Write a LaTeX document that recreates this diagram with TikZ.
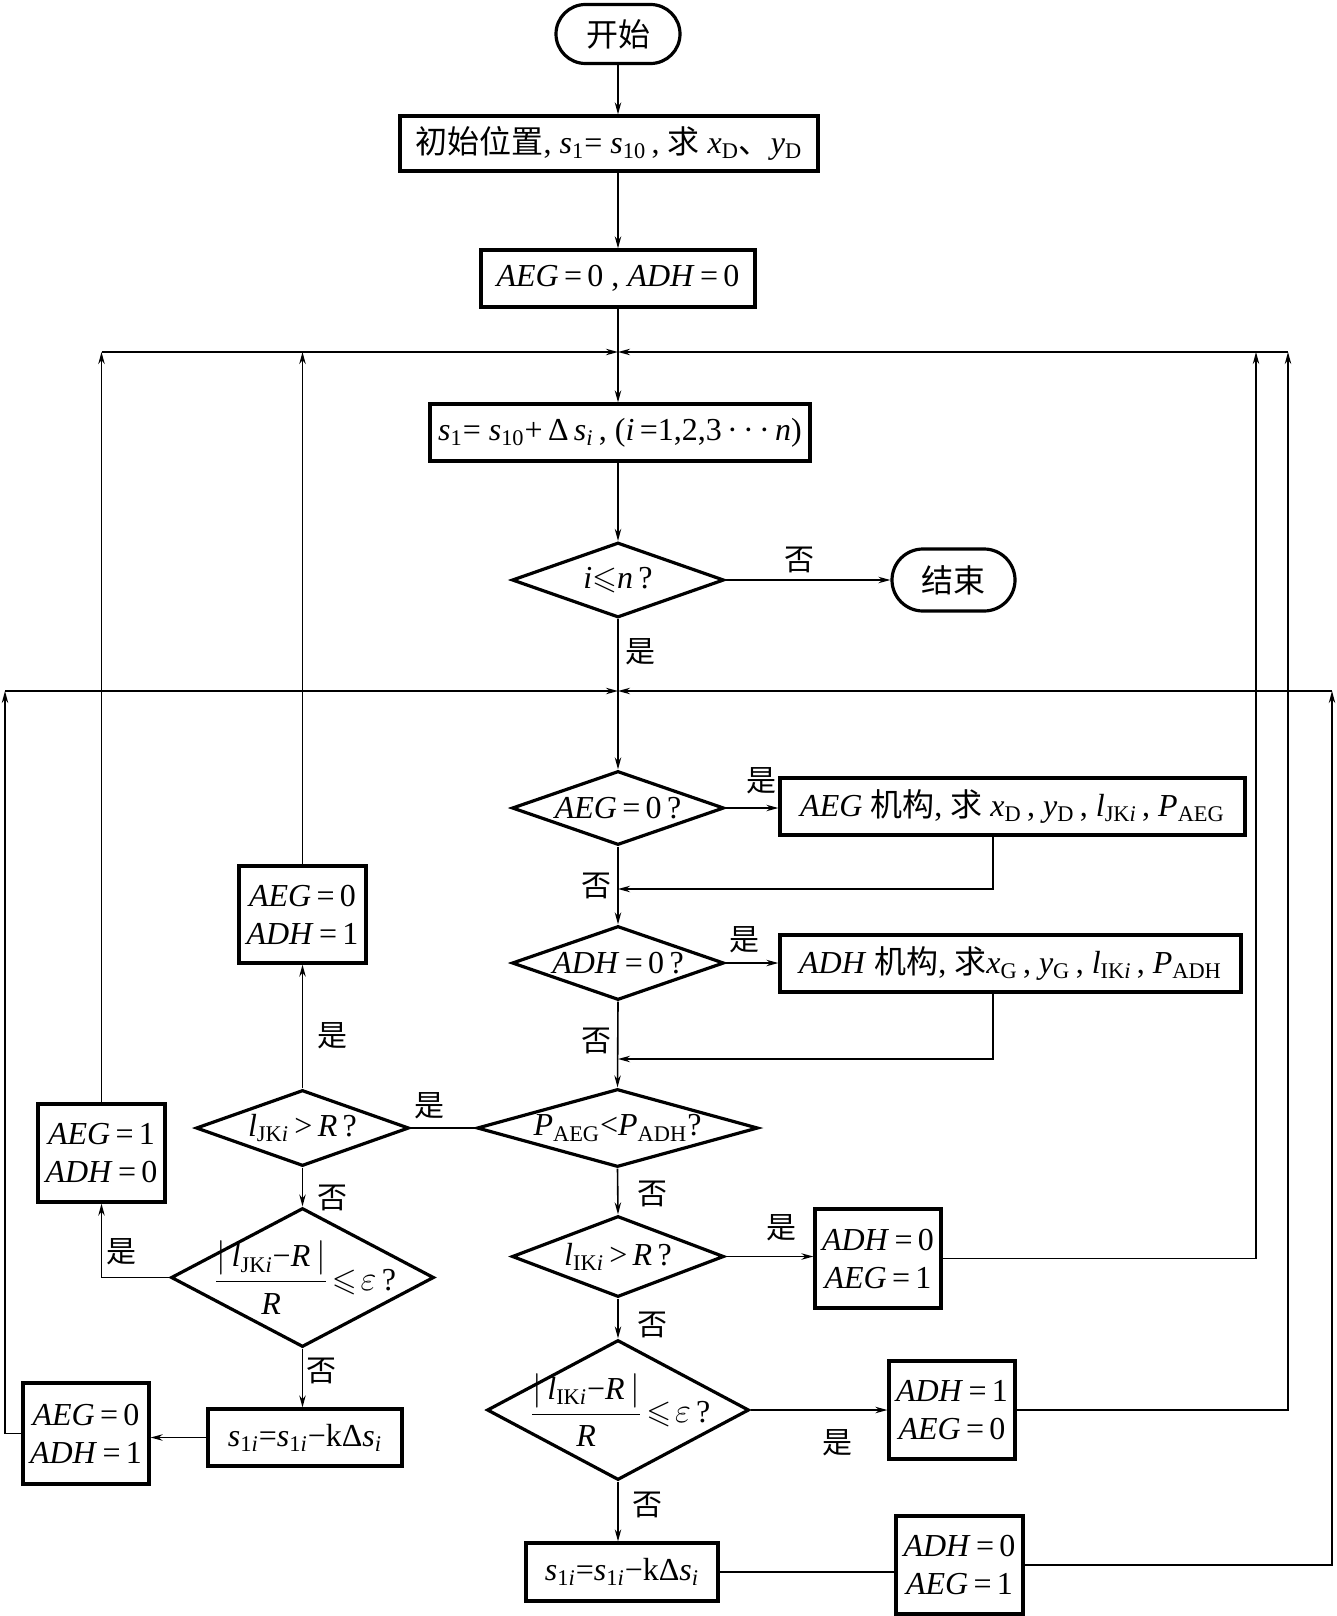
\documentclass[tikz,border=0pt]{standalone}
\usepackage{amsmath,amssymb}
\usepackage{fontspec}
\setmainfont{Liberation Serif}
\newfontfamily\cjk{Noto Sans CJK SC}
\usetikzlibrary{shapes.geometric,arrows.meta}
\newcommand\vi[1]{\textit{#1}}
\newcommand\sbs[1]{\textsubscript{#1}}
\newcommand\fs{\fontsize{16}{19}\selectfont}
\newcommand\epsfrac[1]{$\dfrac{\left|\,\text{\vi{l}\sbs{#1\vi{i}}−\vi{R}}\,\right|}{\text{\vi{R}}}\!\leqslant\!\varepsilon$\,?}
\begin{document}
\begin{tikzpicture}[x=0.5pt,y=-0.5pt,
  box/.style={draw, line width=1.6pt, inner sep=0pt, font=\fs, align=center},
  diam/.style={draw, diamond, line width=1.6pt, inner sep=0pt},
  txt/.style={inner sep=0pt, font=\fs, align=center},
  conn/.style={line width=0.8pt},
  arr/.style={-{Stealth[length=6pt,width=3.2pt]}},
  lbl/.style={inner sep=0pt, font=\cjk\fontsize{15}{18}\selectfont}]
\useasboundingbox (0,0) rectangle (1337,1616);

% ---- nodes ----
\node[box, minimum width=62pt, minimum height=29.5pt, rounded corners=14.75pt] (start) at (618,34) {{\cjk 开始}};
\node[box, minimum width=209pt, minimum height=27.5pt] (init) at (609,143.5)
  {{\cjk 初始位置}, \vi{s}\sbs{1}= \vi{s}\sbs{10}\,, {\cjk 求} \vi{x}\sbs{D}{\cjk 、}\vi{y}\sbs{D}};
\node[box, minimum width=137pt, minimum height=28.5pt] (box0) at (618,278.5)
  {\vi{AEG}\,=\,0 , \vi{ADH}\,=\,0};
\node[box, minimum width=190pt, minimum height=28.5pt] (s1) at (620,432.5)
  {\vi{s}\sbs{1}= \vi{s}\sbs{10}+\,Δ\,\vi{s}\sbs{\vi{i}}\,, (\vi{i}\,=1,2,3\,·\,·\,·\,\vi{n})};
\node[diam, minimum width=106pt, minimum height=37.5pt] (d1) at (618,580) {};
\node[txt] (d1t) at (d1) {\vi{i}$\leqslant$\vi{n}\,?};
\node[box, minimum width=61.5pt, minimum height=31pt, rounded corners=15.5pt] (end) at (953.5,580) {{\cjk 结束}};

\node[diam, minimum width=106pt, minimum height=37pt] (d2) at (618,808) {};
\node[txt] (d2t) at (d2) {\vi{AEG}\,=\,0\,?};
\node[box, minimum width=232.5pt, minimum height=28.5pt] (aegbox) at (1012.5,806.5)
  {\vi{AEG} {\cjk 机构}, {\cjk 求} \vi{x}\sbs{D}\,, \vi{y}\sbs{D}\,, \vi{l}\sbs{JK\vi{i}}\,, \vi{P}\sbs{AEG}};
\node[diam, minimum width=106pt, minimum height=37pt] (d3) at (618,963) {};
\node[txt] (d3t) at (d3) {\vi{ADH}\,=\,0\,?};
\node[box, minimum width=230.5pt, minimum height=28.5pt] (adhbox) at (1010.5,963.5)
  {\vi{ADH} {\cjk 机构}, {\cjk 求}\vi{x}\sbs{G}\,, \vi{y}\sbs{G}\,, \vi{l}\sbs{IK\vi{i}}\,, \vi{P}\sbs{ADH}};
\node[diam, minimum width=140.5pt, minimum height=39pt] (d4) at (617.5,1128) {};
\node[txt] (d4t) at (d4) {\vi{P}\sbs{AEG}<\vi{P}\sbs{ADH}?};

% left column
\node[diam, minimum width=106.5pt, minimum height=38pt] (d5) at (302.5,1128) {};
\node[txt] (d5t) at (d5) {\vi{l}\sbs{JK\vi{i}}\,>\,\vi{R}\,?};
\node[box, minimum width=63.5pt, minimum height=48.5pt] (bA) at (302.5,914.5) {\vi{AEG}\,=\,0\\\vi{ADH}\,=\,1};
\node[diam, minimum width=131.5pt, minimum height=69.5pt] (d6) at (302.5,1277.5) {};
\node[txt] (d6t) at (305,1277.5) {\epsfrac{JK}};
\node[box, minimum width=63.5pt, minimum height=49pt] (bB) at (101.5,1153) {\vi{AEG}\,=\,1\\\vi{ADH}\,=\,0};
\node[box, minimum width=97pt, minimum height=28.5pt] (s1iL) at (305,1437.5)
  {\vi{s}\sbs{1\vi{i}}=\vi{s}\sbs{1\vi{i}}−kΔ\vi{s}\sbs{\vi{i}}};
\node[box, minimum width=63pt, minimum height=50.5pt] (bC) at (86,1433.5) {\vi{AEG}\,=\,0\\\vi{ADH}\,=\,1};

% right column
\node[diam, minimum width=106pt, minimum height=40.5pt] (d7) at (618,1256.5) {};
\node[txt] (d7t) at (d7) {\vi{l}\sbs{IK\vi{i}}\,>\,\vi{R}\,?};
\node[box, minimum width=63pt, minimum height=49.5pt] (bD) at (878,1258.5) {\vi{ADH}\,=\,0\\\vi{AEG}\,=\,1};
\node[diam, minimum width=131pt, minimum height=70pt] (d8) at (618,1410) {};
\node[txt] (d8t) at (620,1410) {\epsfrac{IK}};
\node[box, minimum width=63pt, minimum height=49pt] (bE) at (952,1410) {\vi{ADH}\,=\,1\\\vi{AEG}\,=\,0};
\node[box, minimum width=96pt, minimum height=29pt] (s1iB) at (622,1572)
  {\vi{s}\sbs{1\vi{i}}=\vi{s}\sbs{1\vi{i}}−kΔ\vi{s}\sbs{\vi{i}}};
\node[box, minimum width=63.5pt, minimum height=49pt] (bF) at (959.5,1565) {\vi{ADH}\,=\,0\\\vi{AEG}\,=\,1};

% ---- loop coordinates ----
\coordinate (L1m) at (618,352);
\coordinate (R1) at (1256,352);
\coordinate (R2) at (1288,352);
\coordinate (L2m) at (618,691);
\coordinate (L2a) at (5,691);
\coordinate (L2b) at (1332,691);
\coordinate (M1) at (993,889);
\coordinate (M2) at (993,1059);

% ---- connectors: main line ----
\draw[conn,arr] (start.south) -- (start.south |- init.north);
\draw[conn,arr] (box0.north |- init.south) -- (box0.north);
\draw[conn,arr] (box0.south) -- (box0.south |- s1.north);
\draw[conn,arr] (d1.north |- s1.south) -- (d1.north);
\draw[conn,arr] (d1.east) -- (end.west);
\draw[conn,arr] (d1.south) -- (d2.north);
\draw[conn,arr] (d2.east) -- (d2.east -| aegbox.west);
\draw[conn,arr] (d2.south) -- (d3.north);
\draw[conn,arr] (aegbox.south -| M1) -- (M1) -- (M1 -| d2.south);
\draw[conn,arr] (d3.east) -- (d3.east -| adhbox.west);
\draw[conn,arr] (d3.south) -- (d4.north);
\draw[conn,arr] (adhbox.south -| M2) -- (M2) -- (M2 -| d3.south);

% left branch
\draw[conn] (d4.west) -- (d5.east);
\draw[conn,arr] (d5.north) -- (bA.south);
\draw[conn,arr] (bA.north) -- (bA.north |- L1m);
\draw[conn,arr] (d5.south) -- (d6.north);
\draw[conn,arr] (d6.west) -| (bB.south);
\draw[conn,arr] (bB.north) -- (bB.north |- L1m);
\draw[conn,arr] (bB.north |- L1m) -- (L1m);
\draw[conn,arr] (d6.south) -- (d6.south |- s1iL.north);
\draw[conn,arr] (s1iL.west) -- (s1iL.west -| bC.east);
\draw[conn,arr] (bC.west) -| (L2a);
\draw[conn,arr] (L2a) -- (L2m);

% right branch
\draw[conn,arr] (d4.south) -- (d7.north);
\draw[conn,arr] (d7.east) -- (d7.east -| bD.west);
\draw[conn,arr] (bD.east) -| (R1);
\draw[conn,arr] (d7.south) -- (d8.north);
\draw[conn,arr] (d8.east) -- (bE.west);
\draw[conn,arr] (bE.east) -| (R2);
\draw[conn,arr] (R2) -- (L1m);
\draw[conn,arr] (d8.south) -- (d8.south |- s1iB.north);
\draw[conn] (s1iB.east) -- (s1iB.east -| bF.west);
\draw[conn,arr] (bF.east) -| (L2b);
\draw[conn,arr] (L2b) -- (L2m);

% ---- labels ----
\node[lbl] (n1) at (799,560) {否};
\node[lbl] (y1) at (640,652) {是};
\node[lbl] (y2) at (761,781) {是};
\node[lbl] (n2) at (596,886) {否};
\node[lbl] (y3) at (744,940) {是};
\node[lbl] (n3) at (596,1041) {否};
\node[lbl] (y4) at (429,1106) {是};
\node[lbl] (y5) at (332,1036) {是};
\node[lbl] (n5) at (332,1198) {否};
\node[lbl] (y6) at (121,1252) {是};
\node[lbl] (n6) at (321,1371) {否};
\node[lbl] (n4) at (652,1194) {否};
\node[lbl] (y7) at (781,1228) {是};
\node[lbl] (n7) at (652,1325) {否};
\node[lbl] (y8) at (837,1443) {是};
\node[lbl] (n8) at (647,1505) {否};
\end{tikzpicture}
\end{document}
